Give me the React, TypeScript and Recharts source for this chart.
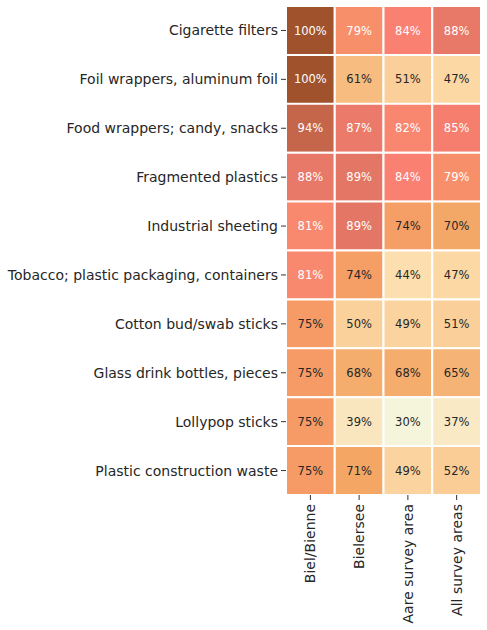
import React from "react";
import { BarChart, Bar, XAxis, YAxis, Cell, LabelList } from "recharts";

const rowLabels = [
  "Cigarette filters",
  "Foil wrappers, aluminum foil",
  "Food wrappers; candy, snacks",
  "Fragmented plastics",
  "Industrial sheeting",
  "Tobacco; plastic packaging, containers",
  "Cotton bud/swab sticks",
  "Glass drink bottles, pieces",
  "Lollypop sticks",
  "Plastic construction waste",
];

const columnLabels = ["Biel/Bienne", "Bielersee", "Aare survey area", "All survey areas"];

const bielBienne = [100, 100, 94, 88, 81, 81, 75, 75, 75, 75];
const bielersee = [79, 61, 87, 89, 89, 74, 50, 68, 39, 71];
const aareSurveyArea = [84, 51, 82, 84, 74, 44, 49, 68, 30, 49];
const allSurveyAreas = [88, 47, 85, 79, 70, 47, 51, 65, 37, 52];

const columnTicks = [0.5, 1.5, 2.5, 3.5];

const seriesValues = [bielBienne, bielersee, aareSurveyArea, allSurveyAreas];

const table = rowLabels.map((name, i) => {
  const row: any = { name };
  seriesValues.forEach((vals, c) => {
    row["s" + c] = 1;
    row["v" + c] = vals[i];
  });
  return row;
});

const colorStops: [number, number[]][] = [
  [30, [245, 245, 220]],
  [44, [253, 222, 174]],
  [50, [251, 209, 155]],
  [61, [246, 188, 128]],
  [72, [244, 164, 98]],
  [84, [250, 128, 114]],
  [89, [227, 118, 100]],
  [100, [160, 82, 45]],
];

function colorRGB(v: number): number[] {
  if (v <= colorStops[0][0]) return colorStops[0][1];
  for (let i = 1; i < colorStops.length; i++) {
    const [p1, c1] = colorStops[i];
    const [p0, c0] = colorStops[i - 1];
    if (v <= p1) {
      const t = (v - p0) / (p1 - p0);
      return c0.map((c, k) => Math.round(c + (c1[k] - c) * t));
    }
  }
  return colorStops[colorStops.length - 1][1];
}

function toHex(rgb: number[]) {
  return "#" + rgb.map((c) => c.toString(16).padStart(2, "0")).join("");
}

function textColor(v: number) {
  const rgb = colorRGB(v).map((c) => {
    const s = c / 255;
    return s <= 0.03928 ? s / 12.92 : Math.pow((s + 0.055) / 1.055, 2.4);
  });
  const lum = 0.2126 * rgb[0] + 0.7152 * rgb[1] + 0.0722 * rgb[2];
  return lum > 0.408 ? "#262626" : "#ffffff";
}

const FONT = "DejaVu Sans, sans-serif";

const XTick = (props: any) => {
  const { x, y, payload } = props;
  const label = columnLabels[Math.floor(payload.value)];
  return (
    <text
      x={x}
      y={y}
      transform={`rotate(-90, ${x}, ${y})`}
      textAnchor="end"
      dy="0.35em"
      fontSize={14}
      fontFamily={FONT}
      fill="#262626"
    >
      {label}
    </text>
  );
};

const makeLabel = (c: number) => (props: any) => {
  const { x, y, width, height, index } = props;
  const v = seriesValues[c][index];
  return (
    <text
      x={x + width / 2}
      y={y + height / 2}
      textAnchor="middle"
      dominantBaseline="central"
      fontSize={11.5}
      fontFamily={FONT}
      fill={textColor(v)}
    >
      {v + "%"}
    </text>
  );
};

export default function App() {
  return (
    <div style={{ position: "absolute", left: 0, top: 0, fontFamily: FONT, background: "#fff" }}>
      <BarChart
        width={487}
        height={630}
        data={table}
        layout="vertical"
        barCategoryGap={0}
        margin={{ top: 6, right: 6, bottom: 0, left: 0 }}
      >
        <XAxis
          type="number"
          domain={[0, 4]}
          ticks={columnTicks}
          interval={0}
          axisLine={false}
          tickSize={5}
          tickMargin={4}
          tickLine={{ stroke: "#333" }}
          tick={<XTick />}
          height={135}
        />
        <YAxis
          type="category"
          dataKey="name"
          width={286}
          interval={0}
          axisLine={false}
          tickSize={5}
          tickMargin={3}
          tickLine={{ stroke: "#333" }}
          tick={{ fontSize: 14, fill: "#262626", fontFamily: FONT }}
        />
        {seriesValues.map((vals, c) => (
          <Bar
            key={c}
            dataKey={"s" + c}
            stackId="a"
            stroke="#ffffff"
            strokeWidth={2}
            isAnimationActive={false}
          >
            {vals.map((v, i) => (
              <Cell key={i} fill={toHex(colorRGB(v))} />
            ))}
            <LabelList dataKey={"v" + c} content={makeLabel(c)} />
          </Bar>
        ))}
      </BarChart>
    </div>
  );
}
